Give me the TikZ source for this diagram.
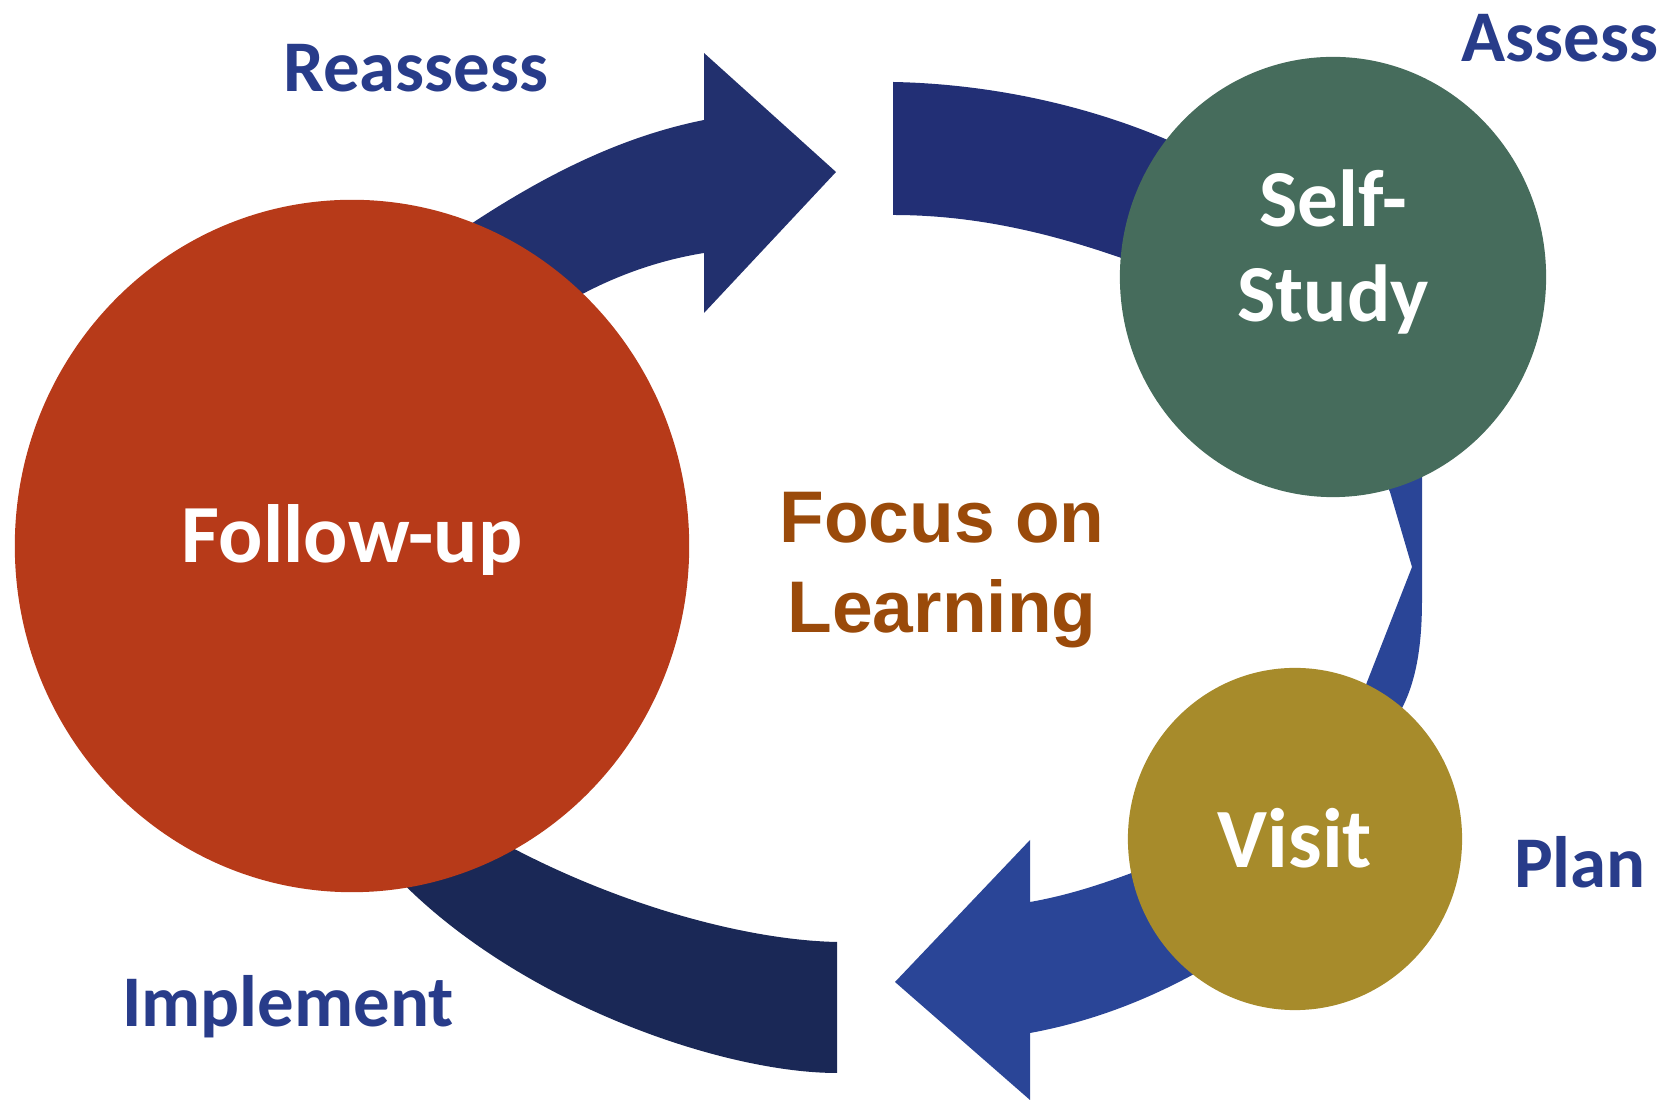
\documentclass[tikz,border=0pt]{standalone}
\usepackage{fontspec}
\setmainfont{Carlito}
\newfontfamily\focusfont{Liberation Sans}
\usetikzlibrary{shapes.geometric}
\definecolor{fucol}{HTML}{B73A19}
\definecolor{sscol}{HTML}{466C5C}
\definecolor{vicol}{HTML}{A78B2B}
\definecolor{racol}{HTML}{22306E}
\definecolor{tbcol}{HTML}{222F75}
\definecolor{plcol}{HTML}{2A4597}
\definecolor{imcol}{HTML}{1A2856}
\definecolor{lblcol}{HTML}{283C8A}
\definecolor{focol}{HTML}{9A4A0A}
\tikzset{
  lbl/.style={text=lblcol, font=\bfseries\fontsize{20.7}{24}\selectfont, anchor=base, inner sep=0pt},
  intext/.style={text=white, anchor=base, inner sep=0pt},
  focus/.style={text=focol, font=\focusfont\bfseries\fontsize{20.8}{25}\selectfont, anchor=base, inner sep=0pt},
  disc/.style={ellipse, draw=none, inner sep=0pt}
}
\begin{document}
\begin{tikzpicture}[x=0.01cm,y=-0.01cm]
\useasboundingbox (0,0) rectangle (1672,1104);
% block arrows (behind the circles)
\fill[racol] (440,245) .. controls (530,182) and (614,138) .. (704,120) -- (704,53) -- (836,172) -- (704,313) -- (704,253) .. controls (660,260) and (600,278) .. (540,320) -- cycle;
\fill[tbcol] (893,82) .. controls (1000,84) and (1110,110) .. (1200,155) -- (1180,280) .. controls (1080,240) and (990,215) .. (893,215) -- cycle;
\fill[plcol] (1380,470) -- (1422,470) -- (1422,600) .. controls (1422,650) and (1415,690) .. (1395,720) -- (1370,745) -- (1360,700) -- (1412,567) -- (1390,492) -- cycle;
\fill[plcol] (1160,862) .. controls (1110,882) and (1070,895) .. (1030,902) -- (1030,840) -- (895,982) -- (1030,1100) -- (1030,1033) .. controls (1090,1022) and (1150,1000) .. (1210,965) -- cycle;
\fill[imcol] (837,942) .. controls (740,940) and (600,900) .. (480,830) -- (390,870) .. controls (510,1000) and (720,1073) .. (837,1073) -- cycle;
% circles
\node[disc, fill=fucol, minimum width=6.74cm, minimum height=6.92cm] (fu) at (352,546) {};
\node[disc, fill=sscol, minimum width=4.26cm, minimum height=4.40cm] (ss) at (1333,277) {};
\node[disc, fill=vicol, minimum width=3.34cm, minimum height=3.42cm] (vi) at (1295,839) {};
% circle texts
\node[intext, font=\bfseries\fontsize{23.5}{28}\selectfont] (fut) at (352,563) {Follow-up};
\node[intext, font=\bfseries\fontsize{23}{28}\selectfont] (ss1) at (1333,227) {Self-};
\node[intext, font=\bfseries\fontsize{23}{28}\selectfont] (ss2) at (1333,322) {Study};
\node[intext, font=\bfseries\fontsize{24}{28}\selectfont] (vit) at (1295,868) {Visit};
% labels
\node[lbl] (reassess) at (416,92) {Reassess};
\node[lbl] (assess) at (1560,62) {Assess};
\node[lbl] (plan) at (1580,888) {Plan};
\node[lbl] (implement) at (288,1027) {Implement};
\node[focus] (fo1) at (942,543) {Focus on};
\node[focus] (fo2) at (942,633) {Learning};
\end{tikzpicture}
\end{document}
